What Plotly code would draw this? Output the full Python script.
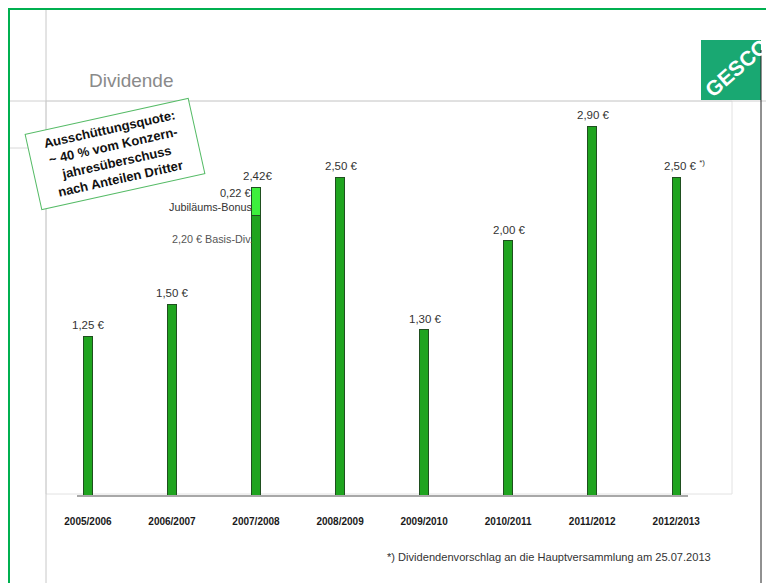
import plotly.graph_objects as go

# ---- data ----
years = ["2005/2006", "2006/2007", "2007/2008", "2008/2009",
         "2009/2010", "2010/2011", "2011/2012", "2012/2013"]
base_div = [1.25, 1.50, 2.20, 2.50, 1.30, 2.00, 2.90, 2.50]
bonus_div = [None, None, 0.22, None, None, None, None, None]
value_labels = ["1,25 €", "1,50 €", "2,42€", "2,50 €", "1,30 €", "2,00 €",
                "2,90 €", "2,50 € <sup>*)</sup>"]
title_text = "Dividende"
box_text = ("Ausschüttungsquote:<br>~ 40 % vom Konzern-<br>"
            "jahresüberschuss<br>nach Anteilen Dritter")
footnote = "*) Dividendenvorschlag an die Hauptversammlung am 25.07.2013"
page_no = "14"

# page body has an 8px margin: figure sits at (8, 8) in the 774x583 window
OFF = 8
W, H = 774 - OFF, 583 - OFF
def px(x): return max(0.0, (x - OFF) / W)
def py(y): return min(1.0, 1 - (y - OFF) / H)

FONT = "Arial, Liberation Sans, sans-serif"
DARK = "#1fa41f"
LIGHT = "#3df03d"
EDGE = "#1f4f1f"

fig = go.Figure()
fig.add_trace(go.Bar(x=years, y=base_div, width=0.1,
                     marker=dict(color=DARK, line=dict(color=EDGE, width=1)),
                     hoverinfo="skip"))
fig.add_trace(go.Bar(x=years, y=bonus_div, width=0.1,
                     marker=dict(color=LIGHT, line=dict(color=EDGE, width=1)),
                     hoverinfo="skip"))

annotations = []
for i, yr in enumerate(years):
    total = base_div[i] + (bonus_div[i] or 0)
    annotations.append(dict(x=yr, y=total, xref="x", yref="y", text=value_labels[i],
                            showarrow=False, yanchor="bottom", yshift=3,
                            xshift=(8 if i == 7 else 1),
                            font=dict(family=FONT, size=11.5, color="#333333")))

# 2007/2008 stacked segment notes
annotations += [
    dict(x=px(253), y=py(193), xref="paper", yref="paper", text="0,22 €",
         showarrow=False, xanchor="right", yanchor="middle",
         font=dict(family=FONT, size=11, color="#333333")),
    dict(x=px(254), y=py(207), xref="paper", yref="paper", text="Jubiläums-Bonus",
         showarrow=False, xanchor="right", yanchor="middle",
         font=dict(family=FONT, size=10.8, color="#333333")),
    dict(x=px(255), y=py(239), xref="paper", yref="paper", text="2,20 € Basis-Div.",
         showarrow=False, xanchor="right", yanchor="middle",
         font=dict(family=FONT, size=10.8, color="#555555")),
]

# title
annotations.append(dict(x=px(87), y=py(80), xref="paper", yref="paper", text=title_text,
                        showarrow=False, xanchor="left", yanchor="middle",
                        font=dict(family=FONT, size=19, color="#8a8a8a")))
# rotated box
annotations.append(dict(x=px(115), y=py(154), xref="paper", yref="paper", text=box_text,
                        showarrow=False, xanchor="center", yanchor="middle",
                        textangle=-12.5, bordercolor="#55bb66", borderwidth=1,
                        borderpad=5, bgcolor="white", width=156,
                        font=dict(family=FONT, size=13, color="#111111", weight="bold")))
# footnote
annotations.append(dict(x=px(385), y=py(557), xref="paper", yref="paper", text=footnote,
                        showarrow=False, xanchor="left", yanchor="middle",
                        font=dict(family=FONT, size=11.1, color="#333333")))
# page number
annotations.append(dict(x=px(764), y=py(560), xref="paper", yref="paper", text=page_no,
                        showarrow=False, xanchor="left", yanchor="middle",
                        font=dict(family=FONT, size=10, color="#1a9a3a", weight="bold")))
# logo text
annotations.append(dict(x=px(737), y=py(68), xref="paper", yref="paper", text="GESCO",
                        showarrow=False, xanchor="center", yanchor="middle",
                        textangle=-41,
                        font=dict(family=FONT, size=21, color="white", weight="bold")))

shapes = [
    # plot area light box
    dict(type="rect", xref="paper", yref="paper", x0=px(46), x1=px(732), y0=py(494), y1=py(101),
         line=dict(color="#e2e2e2", width=1), layer="below"),
    # gray guide lines
    dict(type="line", xref="paper", yref="paper", x0=px(8), x1=1, y0=py(101), y1=py(101),
         line=dict(color="#d0d0d0", width=1), layer="below"),
    dict(type="line", xref="paper", yref="paper", x0=px(8), x1=px(46), y0=py(148), y1=py(148),
         line=dict(color="#d8d8d8", width=1), layer="below"),
    dict(type="line", xref="paper", yref="paper", x0=px(46), x1=px(46), y0=py(9), y1=0,
         line=dict(color="#c8c8c8", width=1), layer="below"),
    # green outer frame (top and left edges)
    dict(type="line", xref="paper", yref="paper", x0=0, x1=1, y0=py(9), y1=py(9),
         line=dict(color="#00b050", width=2)),
    dict(type="line", xref="paper", yref="paper", x0=px(9), x1=px(9), y0=py(8), y1=0,
         line=dict(color="#00b050", width=2)),
    # logo square
    dict(type="rect", xref="paper", yref="paper", x0=px(701), x1=px(761), y0=py(100), y1=py(40),
         fillcolor="#19a872", line=dict(width=0), layer="below"),
    # black vertical line
    dict(type="line", xref="paper", yref="paper", x0=px(761), x1=px(761), y0=py(50), y1=0,
         line=dict(color="#222222", width=1)),
]

fig.update_layout(
    width=W, height=H, autosize=False,
    margin=dict(l=0, r=0, t=0, b=0, pad=0, autoexpand=False),
    paper_bgcolor="white", plot_bgcolor="rgba(0,0,0,0)",
    barmode="stack", showlegend=False,
    annotations=annotations, shapes=shapes,
    xaxis=dict(domain=[px(77), px(688)], range=[-0.13, 7.14], type="category",
               showline=True, linecolor="#a8a8a8", linewidth=2, showgrid=False,
               automargin=False, zeroline=False,
               ticks="", ticklabelstandoff=16, fixedrange=True,
               tickfont=dict(family=FONT, size=10, color="#1a1a1a", weight="bold")),
    yaxis=dict(domain=[py(495), py(101)], range=[0, 3.10], visible=False,
               automargin=False, fixedrange=True),
)

fig.write_html("out.html")
